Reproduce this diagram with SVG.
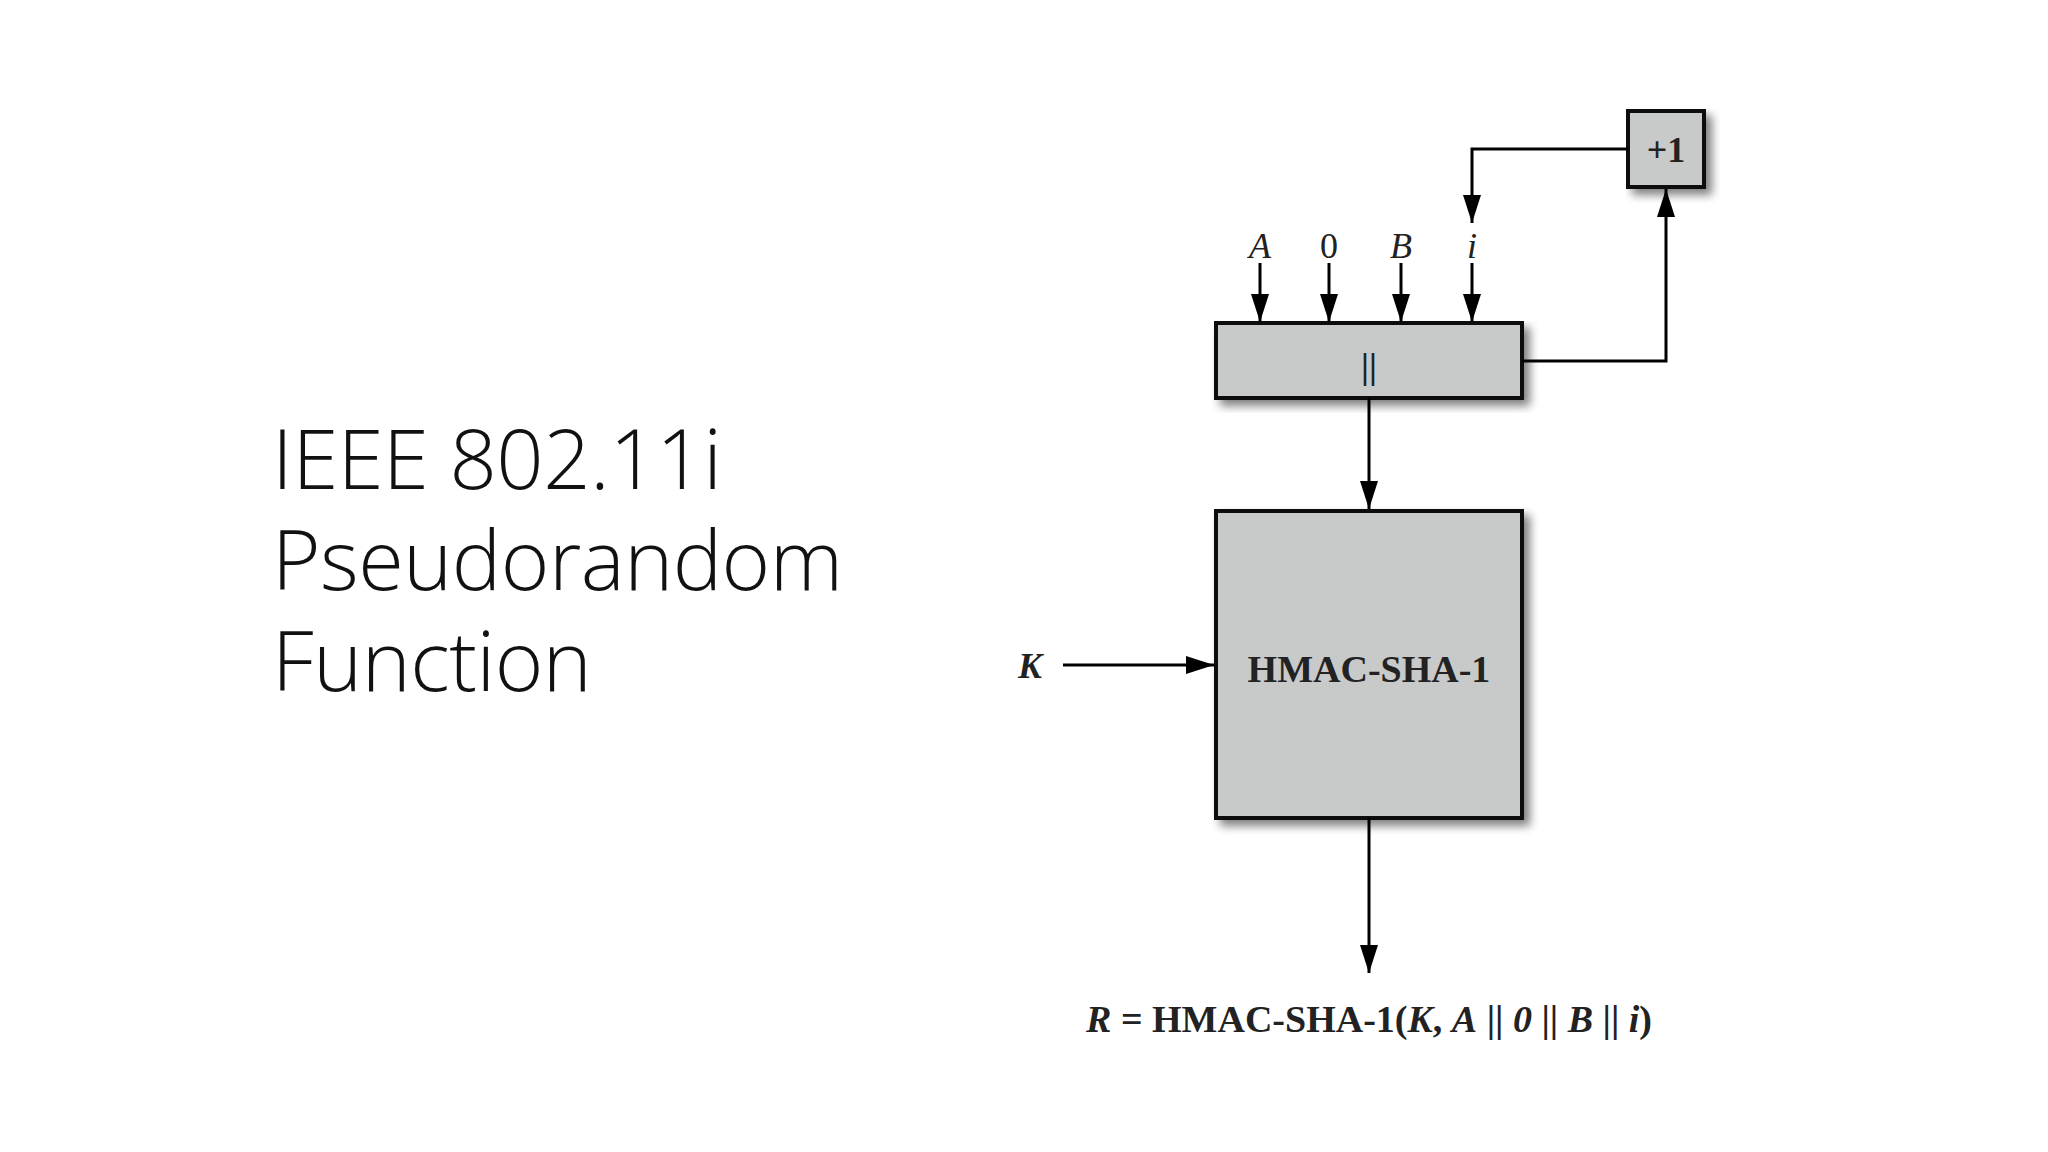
<svg xmlns="http://www.w3.org/2000/svg" width="2048" height="1152" viewBox="0 0 2048 1152">
<defs>
<marker id="ah" markerWidth="28" markerHeight="18" refX="28" refY="9" orient="auto" markerUnits="userSpaceOnUse" viewBox="0 0 28 18"><path d="M0,0 L28,9 L0,18 z" fill="#000"/></marker>
<filter id="sh" x="-10%" y="-10%" width="130%" height="130%"><feGaussianBlur in="SourceAlpha" stdDeviation="5"/><feOffset dx="6" dy="6"/><feComponentTransfer><feFuncA type="linear" slope="0.5"/></feComponentTransfer><feMerge><feMergeNode/><feMergeNode in="SourceGraphic"/></feMerge></filter>
<style>
.box{fill:#c8c9c9;stroke:#111;stroke-width:4;filter:url(#sh)}
.ln{fill:none;stroke:#000;stroke-width:3;marker-end:url(#ah)}
.t{font-family:"Liberation Serif",serif;font-weight:bold;fill:#222}
.it{font-style:italic}
.title{font-family:"Open Sans","Liberation Sans",sans-serif;font-weight:300;font-size:83px;fill:#111;letter-spacing:-0.5px}
</style>
</defs>
<rect width="2048" height="1152" fill="#fff"/>
<g id="title"><text class="title" x="272" y="489">IEEE 802.11i</text><text class="title" x="272" y="590">Pseudorandom</text><text class="title" x="272" y="691">Function</text></g>
<g id="concat"><rect class="box" x="1216" y="323" width="306" height="75"/><text class="t" x="1369" y="378" font-size="36" text-anchor="middle" font-weight="normal">||</text></g>
<g id="hmac"><rect class="box" x="1216" y="511" width="306" height="307"/><text class="t" x="1369" y="682" font-size="38" text-anchor="middle">HMAC-SHA-1</text></g>
<g id="plus1"><rect class="box" x="1628" y="111" width="76" height="76"/><text class="t" x="1666" y="162" font-size="36" text-anchor="middle">+1</text></g>
<g id="labels" class="t" font-size="36">
<text class="it" x="1260" y="258" text-anchor="middle" font-weight="normal">A</text>
<text x="1329" y="258" text-anchor="middle" font-weight="normal">0</text>
<text class="it" x="1401" y="258" text-anchor="middle" font-weight="normal">B</text>
<text class="it" x="1472" y="258" text-anchor="middle" font-weight="normal">i</text>
<text class="it" x="1030" y="678" text-anchor="middle">K</text>
<text x="1369" y="1032" text-anchor="middle" font-size="38"><tspan class="it">R</tspan> = HMAC-SHA-1(<tspan class="it">K</tspan>, <tspan class="it">A</tspan> || <tspan class="it">0</tspan> || <tspan class="it">B</tspan> || <tspan class="it">i</tspan>)</text>
</g>
<g id="connectors">
<path class="ln" d="M1260,263 V322"/>
<path class="ln" d="M1329,263 V322"/>
<path class="ln" d="M1401,263 V322"/>
<path class="ln" d="M1472,263 V322"/>
<path class="ln" d="M1628,149 H1472 V223"/>
<path class="ln" d="M1522,361 H1666 V189"/>
<path class="ln" d="M1369,398 V509"/>
<path class="ln" d="M1063,665 H1214"/>
<path class="ln" d="M1369,818 V973"/>
</g>
</svg>
